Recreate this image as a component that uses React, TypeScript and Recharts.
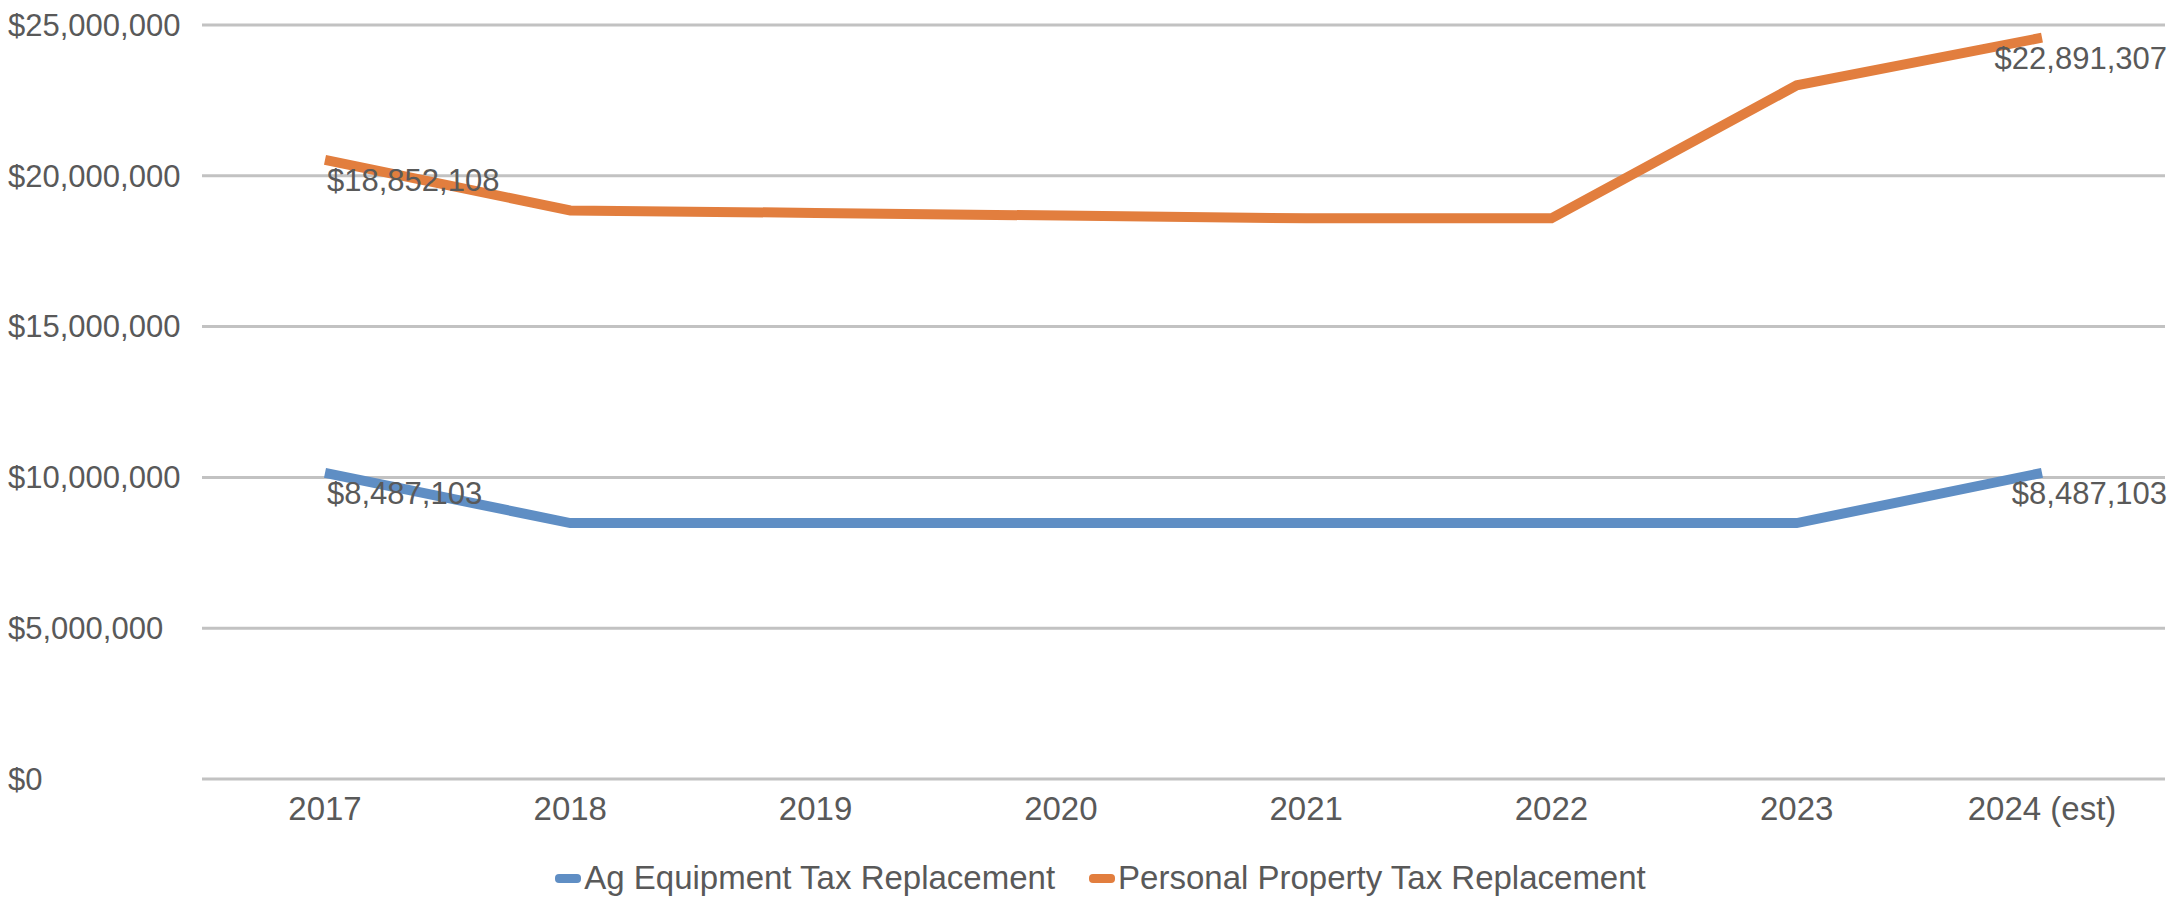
import { LineChart, Line, XAxis, YAxis, CartesianGrid, Legend, LabelList } from 'recharts'

const years = ['2017', '2018', '2019', '2020', '2021', '2022', '2023', '2024 (est)']
const agEquipment = [10150000, 8487103, 8487103, 8487103, 8487103, 8487103, 8487103, 10150000]
const personalProperty = [20530000, 18852108, 18770000, 18680000, 18590000, 18590000, 23000000, 24580000]
// text of the end labels, as printed on the chart
const agLabels = ['$8,487,103', '', '', '', '', '', '', '$8,487,103']
const ppLabels = ['$18,852,108', '', '', '', '', '', '', '$22,891,307']
const yTicks = [0, 5000000, 10000000, 15000000, 20000000, 25000000]

const FONT = '"Liberation Sans", Arial, sans-serif'
const TEXT = '#595959'
const BLUE = '#5f8ec4'
const ORANGE = '#e27e3e'
const W = 2177

const data = years.map((year, i) => ({
  year,
  ag: agEquipment[i],
  pp: personalProperty[i],
  agLabel: agLabels[i],
  ppLabel: ppLabels[i],
}))

const money = (v: number) => '$' + v.toLocaleString('en-US')

function YTick({ y, payload }: any) {
  return (
    <text x={8} y={y} dy="0.35em" fill={TEXT} fontSize={31} fontFamily={FONT} textAnchor="start">
      {money(payload.value)}
    </text>
  )
}

function EndLabel({ x, y, value }: any) {
  if (!value) return null
  // keep the right-hand labels inside the chart
  const est = value.length * 17
  const right = x + 2 + est > W - 10
  return (
    <text
      x={right ? W - 10 : x + 2}
      y={y + 20}
      dy="0.35em"
      fill={TEXT}
      fontSize={31}
      fontFamily={FONT}
      textAnchor={right ? 'end' : 'start'}
    >
      {value}
    </text>
  )
}

function LegendContent() {
  const items = [
    { name: 'Ag Equipment Tax Replacement', color: BLUE },
    { name: 'Personal Property Tax Replacement', color: ORANGE },
  ]
  return (
    <div style={{ display: 'flex', justifyContent: 'center', gap: 34, fontFamily: FONT, fontSize: 33, color: TEXT, paddingLeft: 24 }}>
      {items.map(it => (
        <div key={it.name} style={{ display: 'flex', alignItems: 'center' }}>
          <span style={{ width: 26, height: 9, background: it.color, borderRadius: 4, marginRight: 3 }} />
          <span>{it.name}</span>
        </div>
      ))}
    </div>
  )
}

export default function App() {
  return (
    <div style={{ position: 'absolute', left: 0, top: 0, background: '#fff' }}>
      <LineChart width={W} height={897} data={data} margin={{ top: 25, right: 12, left: 0, bottom: 58 }}>
        <CartesianGrid vertical={false} stroke="#c2c2c2" strokeWidth={3} />
        <XAxis
          dataKey="year"
          axisLine={false}
          tickLine={false}
          height={60}
          padding={{ left: 123, right: 123 }}
          tickMargin={12}
          tick={{ fill: TEXT, fontSize: 33, fontFamily: FONT }}
          interval={0}
        />
        <YAxis
          width={202}
          domain={[0, 25000000]}
          ticks={yTicks}
          axisLine={false}
          tickLine={false}
          tick={<YTick />}
        />
        <Legend
          verticalAlign="middle"
          align="center"
          content={<LegendContent />}
          wrapperStyle={{ top: 859, left: 0, width: W }}
        />
        <Line
          type="linear"
          dataKey="ag"
          name="Ag Equipment Tax Replacement"
          stroke={BLUE}
          strokeWidth={10}
          dot={false}
          isAnimationActive={false}
        >
          <LabelList dataKey="agLabel" content={<EndLabel />} />
        </Line>
        <Line
          type="linear"
          dataKey="pp"
          name="Personal Property Tax Replacement"
          stroke={ORANGE}
          strokeWidth={10}
          dot={false}
          isAnimationActive={false}
        >
          <LabelList dataKey="ppLabel" content={<EndLabel />} />
        </Line>
      </LineChart>
    </div>
  )
}
